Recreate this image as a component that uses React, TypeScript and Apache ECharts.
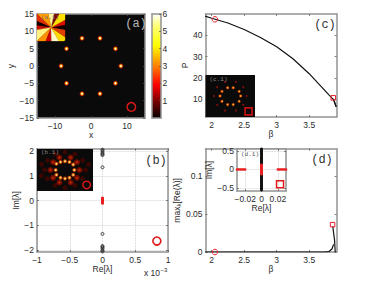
import React, { useEffect, useRef } from "react";
import * as echarts from "echarts";

const SANS = "Liberation Sans";
const MONO = "Liberation Mono";
const TEXT = "#2a2a2a";
const BOX = "#929292";
const RED = "#e8202c";

// Panel (a)
const peaks = [[-2.5, 8], [2.5, 8], [6.8, 5], [8.3, 0], [6.8, -5], [2.5, -8], [-2.5, -8], [-6.8, -5], [-8.3, 0], [-6.8, 5]];
const markerA = [[11.2, -11.8]];
const colorbarTicks = [1, 2, 3, 4, 5, 6];
const colorbarMax = [6];
const wedgeStarts = [-10, 12, 30, 60, 78, 100, 135, 155, 172, 190, 225, 250, 272, 300, 325];
const wedgeEnds = [12, 30, 60, 78, 100, 135, 155, 172, 190, 225, 250, 272, 300, 325, 350];
const wedgeColors = ["#120000", "#d81000", "#ffe000", "#7a0a00", "#fff4a0", "#ff9c00", "#e03000", "#100000", "#c81000", "#fff080", "#ff9000", "#c80000", "#fff8c8", "#ffd800", "#e04000"];

// Panel (c)
const curveC = [[1.9, 49], [2, 48], [2.25, 45.8], [2.5, 42.7], [2.75, 39], [3, 34.6], [3.25, 29], [3.5, 22], [3.7, 15.5], [3.8, 12.2], [3.87, 10], [3.915, 6.5]];
const curveC2 = [[3.87, 10.2], [3.89, 8.8], [3.915, 6.5]];
const markerC1 = [[2.05, 47.5]];
const markerC2 = [[3.87, 10.7]];
const ringC = [[-1.6, 5], [1.8, 5], [5.4, 2.8], [6.3, 0], [5.4, -3.2], [1.8, -5.2], [-1.6, -5.2], [-5, -3.2], [-6.2, 0], [-5, 2.8]];
const outerC = [[-3.2, 8.5], [3.4, 8.5], [7.9, 5.4], [9.9, 0], [7.9, -5.4], [3.4, -8.8], [-3.2, -8.8], [-7.9, -5.4], [-9.9, 0], [-7.9, 5.4]];
const markerC3 = [[11.1, -9.3]];

// Panel (b)
const stableB = [1.34, 1.83, 1.87, 1.92, 2, 2.05, -1.34, -1.83, -1.87, -1.92, -2, -2.05];
const redB = [0.1, 0.07, 0.04, 0.01, -0.02, -0.05, -0.08, -0.11];
const markerB = [[0.83, -1.63]];
const ring1B = [[-4.6, 3.3], [-2.4, 4.3], [0, 4.7], [2.4, 4.3], [4.4, 2.9], [5, 0], [4.4, -2.6], [2.4, -4.1], [0, -4.6], [-2.4, -4.1], [-4.6, -2.6], [-5, 0]];
const ring2B = [[-7.8, 0], [-6.4, 4.2], [-3, 6.7], [3, 6.7], [6.4, 4.2], [7.8, 0], [6.4, -4.2], [3, -6.7], [-3, -6.7], [-6.4, -4.2]];
const ring3B = [[-11, 0], [-9.4, 5.2], [-5.3, 8.6], [0, 9.6], [5.3, 8.6], [9.4, 5.2], [11, 0], [9.4, -4.6], [5.3, -8.2], [0, -9.4], [-5.3, -8.2], [-9.4, -4.6], [-12.6, 3], [12.6, 3], [-12.6, -3]];
const markerB1 = [[11.6, -8]];

// Panel (d)
const curveD = [[1.9, 0], [2.5, 0], [3, 0], [3.5, 0], [3.75, 0.0002], [3.8, 0.0004], [3.85, 0.004], [3.875, 0.01]];
const curveD2 = [[3.865, 0.034], [3.868, 0.03], [3.89, 0.016], [3.9, 0]];
const markerD1 = [[2.05, 0]];
const markerD2 = [[3.86, 0.036]];
const blackD = [0.55, 0.52, 0.49, 0.46, 0.43, 0.4, 0.37, 0.34, 0.31, 0.28, 0.25, 0.22, 0.19, 0.16, -0.16, -0.19, -0.22, -0.25, -0.28, -0.31, -0.34, -0.37, -0.4, -0.43, -0.46, -0.49, -0.52, -0.55];
const redDy = [0.12, 0.09, 0.06, 0.03, 0, -0.03, -0.06, -0.09, -0.12];
const redDx = [-0.03, -0.028, -0.026, -0.024, -0.022, -0.02, 0.02, 0.022, 0.024, 0.026, 0.028, 0.03];
const markerD3 = [[0.0227, -0.4]];

const minus = (v: number) => String(v).replace("-", "\u2212");
const ptsY = (ys: number[]) => ys.map((y) => [0, y]);
const ptsX = (xs: number[]) => xs.map((x) => [x, 0]);

function build() {
  const grid: any[] = [];
  const xAxis: any[] = [];
  const yAxis: any[] = [];
  const series: any[] = [];

  const rect = (l: number, t: number, r: number, b: number, z: number, bg: string) => {
    grid.push({ left: l, top: t, width: r - l, height: b - t, z, show: true, backgroundColor: bg, borderWidth: 0 });
    return grid.length - 1;
  };

  const axisPair = (
    g: number,
    z: number,
    xr: number[],
    yr: number[],
    xt: number[],
    yt: number[],
    o: any = {}
  ) => {
    const line = { show: true, onZero: false, lineStyle: { color: BOX, width: o.boxWidth ?? 1.5 } };
    const tick = (vals: number[]) => ({ show: vals.length > 0, inside: true, length: 2, customValues: vals, lineStyle: { color: "#555", width: 0.7 } });
    const label = (vals: number[]) => ({
      show: vals.length > 0 && !o.noLabels,
      customValues: vals,
      fontFamily: SANS,
      fontSize: o.fontSize ?? 8.5,
      color: TEXT,
      margin: 3,
      formatter: (v: number) => minus(v),
    });
    const split = { show: !!o.gridLines, lineStyle: { color: "#c8c8c8", type: "dotted", width: 0.8 } };
    const xi = xAxis.length;
    xAxis.push({
      type: "value", gridIndex: g, z, min: xr[0], max: xr[1], position: "bottom",
      axisLine: line, axisTick: tick(xt), axisLabel: label(xt), splitLine: split,
      name: o.xName, nameLocation: "middle", nameGap: o.xGap ?? 12,
      nameTextStyle: { fontFamily: SANS, fontSize: o.nameSize ?? 8.5, color: TEXT },
    });
    xAxis.push({
      type: "value", gridIndex: g, z, min: xr[0], max: xr[1], position: "top",
      axisLine: line, axisTick: tick(xt), axisLabel: { show: false }, splitLine: { show: false },
    });
    const yi = yAxis.length;
    yAxis.push({
      type: "value", gridIndex: g, z, min: yr[0], max: yr[1], position: "left",
      axisLine: line, axisTick: tick(yt), axisLabel: label(yt), splitLine: split,
      name: o.yName, nameLocation: "middle", nameGap: o.yGap ?? 16, nameRotate: 90,
      nameTextStyle: { fontFamily: SANS, fontSize: o.nameSize ?? 8.5, color: TEXT, rich: o.yRich },
    });
    yAxis.push({
      type: "value", gridIndex: g, z, min: yr[0], max: yr[1], position: "right",
      axisLine: line, axisTick: tick(yt), axisLabel: { show: false }, splitLine: { show: false },
    });
    return { x: xi, y: yi };
  };

  const scatter = (ax: any, z: number, data: number[][], size: number, color: string, extra: any = {}) =>
    series.push({
      type: "scatter", xAxisIndex: ax.x, yAxisIndex: ax.y, z, data, symbolSize: size, silent: true,
      symbol: extra.symbol ?? "circle",
      itemStyle: { color, opacity: extra.opacity ?? 1, borderColor: extra.border, borderWidth: extra.borderWidth ?? 0 },
    });
  const ring = (ax: any, z: number, data: number[][], size: number, color: string, w: number, symbol = "circle") =>
    scatter(ax, z, data, size, "transparent", { border: color, borderWidth: w, symbol });
  const curve = (ax: any, z: number, data: number[][]) =>
    series.push({
      type: "line", xAxisIndex: ax.x, yAxisIndex: ax.y, z, data, showSymbol: false, smooth: false, silent: true,
      lineStyle: { color: "#111", width: 1.2 },
    });

  // (a)
  const ga = rect(37, 14, 145, 118, 1, "#0a0a0a");
  const aa = axisPair(ga, 2, [-15, 15], [-15, 15], [-10, 0, 10], [-15, -10, -5, 0, 5, 10, 15], { xName: "x", yName: "y", xGap: 11, yGap: 15 });
  scatter(aa, 3, peaks, 5, "#a81000", { opacity: 0.85 });
  scatter(aa, 4, peaks, 3.4, "#ffa000");
  scatter(aa, 5, peaks, 1.7, "#fffff0");
  ring(aa, 5, markerA, 8.5, "#d81818", 1.5);

  const ga1 = rect(37, 14, 65, 41, 8, "#000");
  const aa1 = axisPair(ga1, 9, [-1, 1], [-1, 1], [], [], { noLabels: true, boxWidth: 0 });
  [xAxis[aa1.x], xAxis[aa1.x + 1], yAxis[aa1.y], yAxis[aa1.y + 1]].forEach((a) => (a.axisLine = { show: false }));
  series.push({
    type: "custom", xAxisIndex: aa1.x, yAxisIndex: aa1.y, z: 10, silent: true,
    data: wedgeStarts.map((s, i) => [s, wedgeEnds[i], i]),
    encode: { x: 0, y: 1 },
    renderItem: (_p: any, api: any) => {
      const a0 = api.value(0), a1 = api.value(1), idx = api.value(2);
      const pts: number[][] = [api.coord([0, 0])];
      for (let k = 0; k <= 6; k++) {
        const a = ((a0 + ((a1 - a0) * k) / 6) * Math.PI) / 180;
        const c = Math.cos(a), s = Math.sin(a);
        const m = Math.max(Math.abs(c), Math.abs(s));
        pts.push(api.coord([c / m, s / m]));
      }
      return { type: "polygon", shape: { points: pts }, style: { fill: wedgeColors[idx], stroke: wedgeColors[idx], lineWidth: 0.3 } };
    },
  });

  // colorbar
  const gb = rect(152, 14, 161, 118, 1, "#000");
  const ab = axisPair(gb, 2, [0, 1], [0, 6], [], [], { noLabels: true });
  yAxis[ab.y].axisLabel = { show: false };
  yAxis[ab.y + 1].axisLabel = {
    show: true, customValues: colorbarTicks, fontFamily: SANS, fontSize: 8.5, color: TEXT, margin: 1.5,
    formatter: (v: number) => String(v),
  };
  yAxis[ab.y + 1].axisTick = { show: true, inside: true, length: 2, customValues: colorbarTicks, lineStyle: { color: "#555", width: 0.7 } };
  xAxis[ab.x] = { ...xAxis[ab.x], type: "category", data: ["c"], min: undefined, max: undefined, axisTick: { show: false }, axisLabel: { show: false } };
  xAxis[ab.x + 1] = { ...xAxis[ab.x + 1], type: "category", data: ["c"], min: undefined, max: undefined, axisTick: { show: false } };
  series.push({
    type: "bar", xAxisIndex: ab.x, yAxisIndex: ab.y, z: 1, barWidth: "100%", silent: true, data: colorbarMax,
    itemStyle: {
      color: new echarts.graphic.LinearGradient(0, 0, 0, 1, [
        { offset: 0, color: "#ffffff" },
        { offset: 0.1, color: "#ffff80" },
        { offset: 0.3, color: "#ffff00" },
        { offset: 0.5, color: "#ff8000" },
        { offset: 0.68, color: "#ff0000" },
        { offset: 0.85, color: "#700000" },
        { offset: 1, color: "#050000" },
      ]),
    },
  });

  // (c)
  const gc = rect(205.5, 14, 336.5, 117, 1, "#fff");
  const ac = axisPair(gc, 2, [1.905, 3.92], [1.7, 50], [2, 2.5, 3, 3.5], [10, 20, 30, 40], { xName: "\u03b2", yName: "P", xGap: 11, yGap: 16 });
  curve(ac, 3, curveC);
  curve(ac, 3, curveC2);
  ring(ac, 4, markerC1, 5.5, RED, 1);
  ring(ac, 4, markerC2, 4.5, RED, 1, "rect");

  const gc1 = rect(205.5, 75, 255, 117, 8, "#0a0a0a");
  const ac1 = axisPair(gc1, 9, [-15, 15], [-12.73, 12.73], [], [], { noLabels: true });
  [xAxis[ac1.x], xAxis[ac1.x + 1], yAxis[ac1.y], yAxis[ac1.y + 1]].forEach((a) => (a.axisLine = { show: false }));
  scatter(ac1, 10, outerC, 2, "#801010");
  scatter(ac1, 10, ringC, 3.2, "#a82800");
  scatter(ac1, 11, ringC, 1.7, "#ffb030");
  ring(ac1, 11, markerC3, 7, "#c81010", 1.7, "rect");

  // (b)
  const gb2 = rect(37, 148.7, 168, 252, 1, "#fff");
  const ab2 = axisPair(gb2, 2, [-1, 1], [-2.07, 2.09], [-1, -0.5, 0, 0.5, 1], [-2, -1, 0, 1, 2], { xName: "Re[\u03bb]", yName: "Im[\u03bb]", gridLines: true, xGap: 11, yGap: 11 });
  ring(ab2, 3, ptsY(stableB), 3, "#222", 0.9);
  scatter(ab2, 4, ptsY(redB), 3, "#e82020");
  ring(ab2, 4, markerB, 8, "#e01818", 1.6);

  const gb1 = rect(37, 149, 93, 191, 8, "#0a0a0a");
  const ab1 = axisPair(gb1, 9, [-15, 15], [-11.25, 11.25], [], [], { noLabels: true });
  [xAxis[ab1.x], xAxis[ab1.x + 1], yAxis[ab1.y], yAxis[ab1.y + 1]].forEach((a) => (a.axisLine = { show: false }));
  scatter(ab1, 10, ring3B, 5, "#3e0500", { opacity: 0.9 });
  scatter(ab1, 10, ring2B, 6, "#7a0c00", { opacity: 0.9 });
  scatter(ab1, 11, ring2B, 2.4, "#b82800");
  scatter(ab1, 11, ring1B, 4, "#d04000", { opacity: 0.9 });
  scatter(ab1, 12, ring1B, 2.1, "#ffe070");
  ring(ab1, 12, markerB1, 7.5, "#d81818", 1.5);

  // (d)
  const gd = rect(205.5, 148.7, 336.5, 252, 1, "#fff");
  const ad = axisPair(gd, 2, [1.905, 3.92], [0, 0.136], [2, 2.5, 3, 3.5], [0, 0.05, 0.1], {
    xName: "\u03b2", xGap: 10, yGap: 24,
    yName: "max{s|\u03bb}[Re(\u03bb)]",
    yRich: { s: { fontFamily: SANS, fontSize: 6, color: TEXT, verticalAlign: "bottom", padding: [3, 0, 0, 0] } },
  });
  curve(ad, 3, curveD);
  curve(ad, 3, curveD2);
  ring(ad, 4, markerD1, 5.5, RED, 1);
  ring(ad, 4, markerD2, 4.5, RED, 1, "rect");

  const gd1 = rect(237, 149, 286, 191, 8, "#fff");
  const ad1 = axisPair(gd1, 9, [-0.03, 0.03], [-0.58, 0.55], [-0.02, 0, 0.02], [-0.5, 0, 0.5], {
    xName: "Re[\u03bb]", yName: "Im[\u03bb]", gridLines: true, xGap: 10, yGap: 21,
  });
  scatter(ad1, 10, ptsY(blackD), 3, "#111");
  scatter(ad1, 11, ptsY(redDy), 3, "#e82020");
  scatter(ad1, 11, ptsX(redDx), 2.6, "#e82020");
  ring(ad1, 11, markerD3, 7, "#e01818", 1.5, "rect");

  const label = (text: string, x: number, y: number, size: number, color: string, font = MONO) => ({
    type: "text", x, y, z: 100, silent: true,
    style: { text, x: 0, y: 0, fill: color, font: `${size}px "${font}"`, textAlign: "center", textVerticalAlign: "middle" },
  });

  const graphic = [
    label("(a)", 136, 24, 12, "#b8b8b8"),
    label("(c)", 325, 25, 12, "#333"),
    label("(b)", 156, 161, 12, "#333"),
    label("(d)", 322, 160, 12, "#333"),
    label("(a.1)", 50, 17.5, 6, "#777"),
    label("(b.1)", 50, 152.5, 6, "#888"),
    label("(c.1)", 218.5, 79.5, 6, "#888"),
    label("(d.1)", 250, 154.5, 6, "#555"),
    label("x 10", 152, 273, 8.5, TEXT, SANS),
    label("\u22123", 164, 270, 6, TEXT, SANS),
  ];

  return { animation: false, backgroundColor: "#fff", grid, xAxis, yAxis, series, graphic };
}

export default function App() {
  const ref = useRef<HTMLDivElement>(null);
  useEffect(() => {
    document.body.style.margin = "0";
    const chart = echarts.init(ref.current!, undefined, { renderer: "svg" });
    chart.setOption(build() as any);
    return () => chart.dispose();
  }, []);
  return <div ref={ref} style={{ width: 374, height: 281 }} />;
}
